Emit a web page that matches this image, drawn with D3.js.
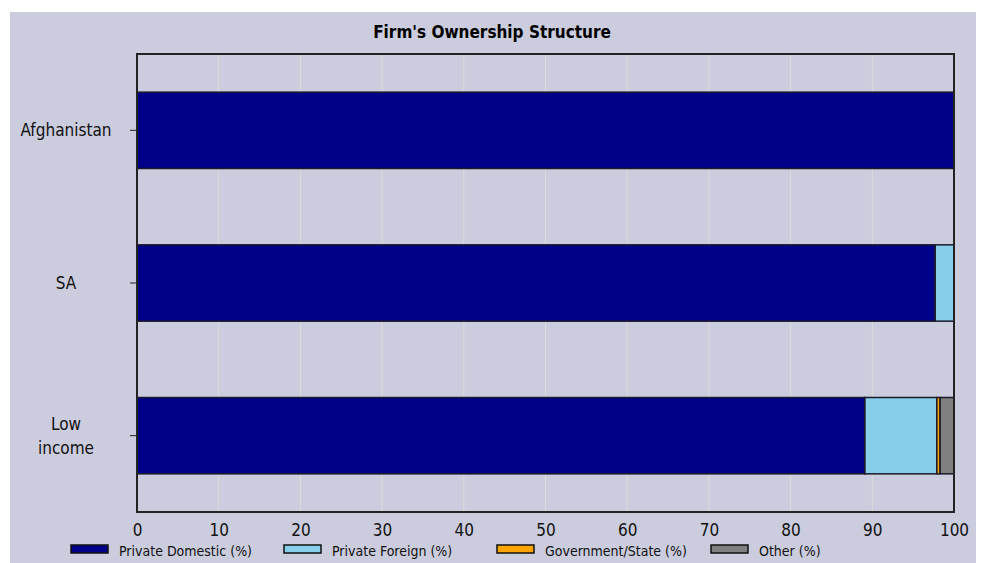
<html>
<head>
    <title>Firm's Ownership Structure</title>
    <style>
        html, body { margin: 0; padding: 0; background: #ffffff; overflow: hidden; }
        svg { display: block; }
        text { font-family: "DejaVu Sans Condensed", "Liberation Sans", Arial, sans-serif; }
    </style>
</head>
<body>
<script src="https://d3js.org/d3.v7.min.js"></script>
<script>
// data
var categories = ['Afghanistan', 'SA', 'Low income'];
var seriesNames = ['Private Domestic (%)', 'Private Foreign (%)', 'Government/State (%)', 'Other (%)'];
var privateDomestic = [100, 97.7, 89.1];
var privateForeign = [0, 2.3, 8.8];
var government = [0, 0, 0.4];
var other = [0, 0, 1.7];
var xTicks = [0, 10, 20, 30, 40, 50, 60, 70, 80, 90, 100];
var colors = ['#000088', '#87ceeb', '#ffa500', '#808080'];

var width = 981, height = 563;
var margin = {top: 54, right: 27, bottom: 51, left: 137};
var innerWidth = width - margin.left - margin.right;
var innerHeight = height - margin.top - margin.bottom;

var svg = d3.select('body').append('svg')
    .attr('width', width).attr('height', height);

// panel background
svg.append('rect')
    .attr('x', 10).attr('y', 12)
    .attr('width', 966).attr('height', height - 12)
    .attr('fill', '#cbccdd');

var g = svg.append('g')
    .attr('transform', 'translate(' + margin.left + ',' + margin.top + ')');

var x = d3.scaleLinear().domain([0, 100]).range([0, innerWidth]);
var y = d3.scaleBand().domain(categories).range([0, innerHeight])
    .paddingInner(0.5).paddingOuter(0.25);

// gridlines
g.selectAll('.grid').data(xTicks.slice(1, -1)).enter()
    .append('line')
    .attr('x1', function(d) { return x(d); })
    .attr('x2', function(d) { return x(d); })
    .attr('y1', 0).attr('y2', innerHeight)
    .attr('stroke', '#dcdcd8').attr('stroke-width', 1);

// stack
var rows = categories.map(function(c, i) {
    return {cat: c, v0: privateDomestic[i], v1: privateForeign[i], v2: government[i], v3: other[i]};
});
var stack = d3.stack().keys(['v0', 'v1', 'v2', 'v3'])(rows);

g.selectAll('.series').data(stack).enter()
    .append('g')
    .attr('fill', function(d, i) { return colors[i]; })
    .selectAll('rect')
    .data(function(d) { return d.filter(function(p) { return p[1] - p[0] > 0; }); })
    .enter().append('rect')
    .attr('x', function(d) { return x(d[0]); })
    .attr('y', function(d) { return y(d.data.cat); })
    .attr('width', function(d) { return x(d[1]) - x(d[0]); })
    .attr('height', y.bandwidth())
    .attr('stroke', '#1a1a2a').attr('stroke-width', 1.5);

// frame
g.append('rect')
    .attr('x', 0).attr('y', 0)
    .attr('width', innerWidth).attr('height', innerHeight)
    .attr('fill', 'none').attr('stroke', '#222').attr('stroke-width', 2);

// y axis ticks + labels
g.selectAll('.ytick').data(categories).enter()
    .append('line')
    .attr('x1', -7).attr('x2', 0)
    .attr('y1', function(d) { return y(d) + y.bandwidth() / 2; })
    .attr('y2', function(d) { return y(d) + y.bandwidth() / 2; })
    .attr('stroke', '#222');

var labelLines = {'Afghanistan': ['Afghanistan'], 'SA': ['SA'], 'Low income': ['Low', 'income']};
g.selectAll('.ylab').data(categories).enter()
    .append('text')
    .attr('text-anchor', 'middle')
    .attr('font-size', 17)
    .attr('fill', '#111')
    .each(function(d) {
        var lines = labelLines[d];
        var cy = y(d) + y.bandwidth() / 2;
        var t = d3.select(this);
        lines.forEach(function(l, i) {
            t.append('tspan')
                .attr('x', 66 - margin.left)
                .attr('y', cy + 6 + (i - (lines.length - 1) / 2) * 24)
                .text(l);
        });
    });

// x axis labels
var xAxis = d3.axisBottom(x).tickValues(xTicks).tickSize(0).tickPadding(12);
var xg = g.append('g')
    .attr('transform', 'translate(0,' + innerHeight + ')')
    .call(xAxis);
xg.select('.domain').remove();
xg.selectAll('text').attr('font-size', 17).attr('fill', '#111')
    .style('font-family', '"DejaVu Sans Condensed", "Liberation Sans", Arial, sans-serif');

// title
svg.append('text')
    .attr('x', 492).attr('y', 38)
    .attr('text-anchor', 'middle')
    .attr('font-size', 17).attr('font-weight', 'bold')
    .attr('fill', '#000')
    .text("Firm's Ownership Structure");

// legend
var legendX = [71, 284, 497, 711];
var legend = svg.selectAll('.legend').data(seriesNames).enter()
    .append('g')
    .attr('transform', function(d, i) { return 'translate(' + legendX[i] + ',545)'; });
legend.append('rect')
    .attr('width', 37).attr('height', 8)
    .attr('fill', function(d, i) { return colors[i]; })
    .attr('stroke', '#111').attr('stroke-width', 1.5);
legend.append('text')
    .attr('x', 48).attr('y', 11)
    .attr('font-size', 14).attr('fill', '#111')
    .text(function(d) { return d; });
</script>
</body>
</html>
